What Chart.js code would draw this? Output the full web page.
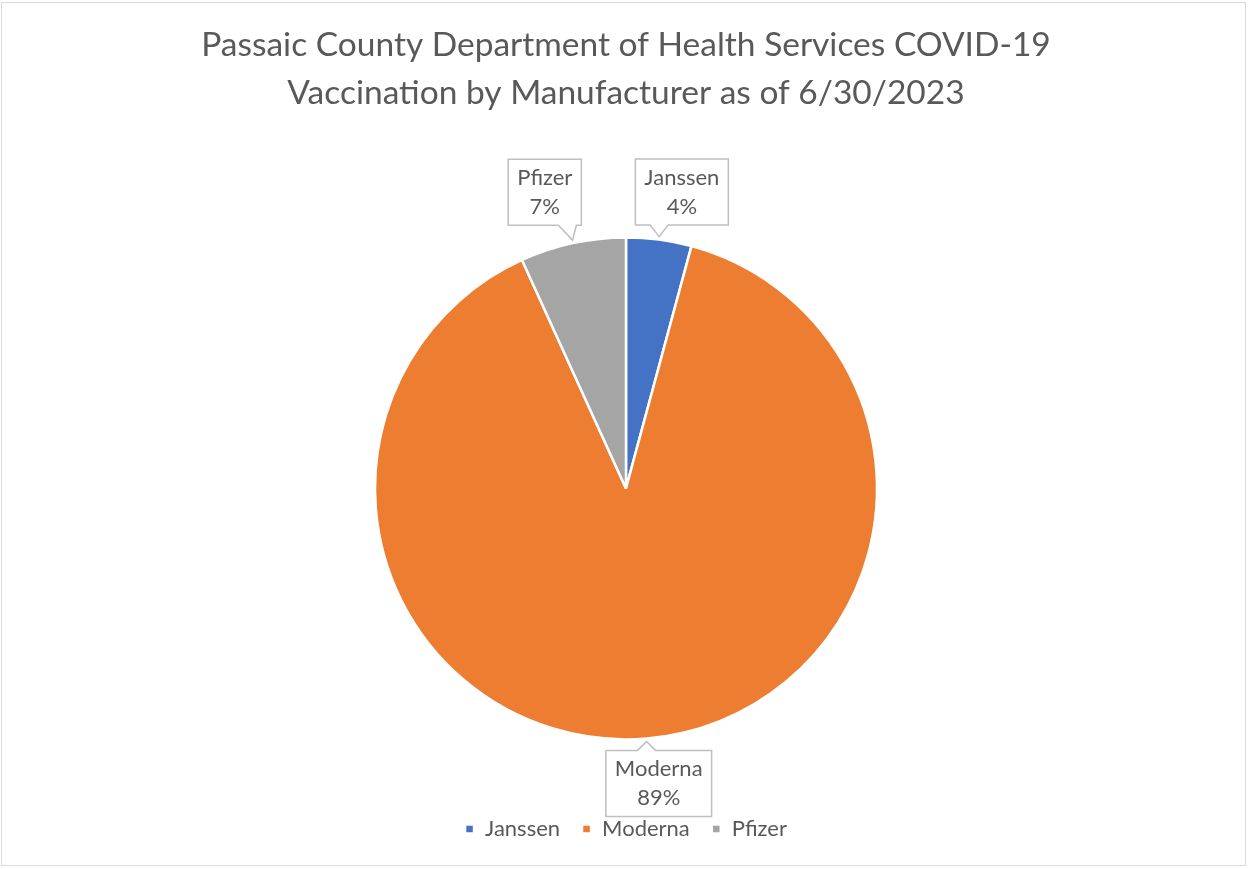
<!DOCTYPE html>
<html>
<head>
<meta charset="utf-8">
<script src="https://cdn.jsdelivr.net/npm/chart.js@4"></script>
<style>
  html, body { margin: 0; padding: 0; background: #fff; }
  #wrap {
    position: absolute; left: 1px; top: 2px; width: 1245px; height: 864px;
    border: 1px solid #d9d9d9; box-sizing: border-box;
  }
</style>
</head>
<body>
<div id="wrap"><canvas id="pieChart"></canvas></div>
<script>
// Данные диаграммы
const manufacturers = ['Janssen', 'Moderna', 'Pfizer'];
const shares = [4.2, 89.0, 6.8];
const pctLabels = ['4%', '89%', '7%'];
const sliceColors = ['#4472c4', '#ed7d31', '#a5a5a5'];

const textColor = '#595959';
const fontFamily = 'Lato, "Open Sans", sans-serif';

// Сдвиг выносок (стиль, не данные)
const calloutShift = [[16, 4], [8, -7], [-17, 0]];

// Плагин для выносок с рамкой и "хвостиком"
const calloutPlugin = {
    id: 'callouts',
    afterDatasetsDraw(chart) {
        const ctx = chart.ctx;
        const meta = chart.getDatasetMeta(0);
        ctx.save();
        ctx.font = '22px ' + fontFamily;
        meta.data.forEach((arc, i) => {
            const p = arc.getProps(['x', 'y', 'startAngle', 'endAngle', 'outerRadius'], true);
            const mid = (p.startAngle + p.endAngle) / 2;
            const dx = Math.cos(mid), dy = Math.sin(mid);
            const tipX = p.x + dx * (p.outerRadius + 1);
            const tipY = p.y + dy * (p.outerRadius + 1);

            const lines = [manufacturers[i], pctLabels[i]];
            const tw = Math.max(...lines.map(t => ctx.measureText(t).width));
            const w = tw + 18, h = 66;
            const cx = p.x + dx * (p.outerRadius + 52) + calloutShift[i][0];
            const cy = p.y + dy * (p.outerRadius + 52) + calloutShift[i][1];
            const left = cx - w / 2, right = cx + w / 2, top = cy - h / 2, bottom = cy + h / 2;

            const baseX = Math.min(Math.max(tipX, left + 14), right - 14);
            const half = 9;

            ctx.beginPath();
            if (tipY > bottom) {
                ctx.moveTo(left, top);
                ctx.lineTo(right, top);
                ctx.lineTo(right, bottom);
                ctx.lineTo(baseX + half, bottom);
                ctx.lineTo(tipX, tipY - 2);
                ctx.lineTo(baseX - half, bottom);
                ctx.lineTo(left, bottom);
            } else {
                ctx.moveTo(left, bottom);
                ctx.lineTo(left, top);
                ctx.lineTo(baseX - half, top);
                ctx.lineTo(tipX, tipY + 2);
                ctx.lineTo(baseX + half, top);
                ctx.lineTo(right, top);
                ctx.lineTo(right, bottom);
            }
            ctx.closePath();
            ctx.fillStyle = '#ffffff';
            ctx.fill();
            ctx.lineWidth = 1.5;
            ctx.strokeStyle = '#bfbfbf';
            ctx.stroke();

            ctx.fillStyle = textColor;
            ctx.textAlign = 'center';
            ctx.textBaseline = 'middle';
            ctx.fillText(lines[0], cx, cy - 14);
            ctx.fillText(lines[1], cx, cy + 15);
        });
        ctx.restore();
    }
};

const ctx = document.getElementById('pieChart').getContext('2d');
const pieChart = new Chart(ctx, {
    type: 'pie',
    data: {
        labels: manufacturers,
        datasets: [{
            data: shares,
            backgroundColor: sliceColors,
            borderColor: '#ffffff',
            borderWidth: 2.5
        }]
    },
    options: {
        responsive: true,
        maintainAspectRatio: false,
        animation: false,
        radius: 251,
        layout: {
            padding: { top: 0, bottom: 15, left: 5, right: 0 }
        },
        plugins: {
            title: {
                display: true,
                text: ['Passaic County Department of Health Services COVID-19',
                       'Vaccination by Manufacturer as of 6/30/2023'],
                color: textColor,
                font: { family: fontFamily, size: 33.5, weight: 'normal', lineHeight: 1.43 },
                padding: { top: 18, bottom: 64 }
            },
            legend: {
                position: 'bottom',
                labels: {
                    color: textColor,
                    font: { family: fontFamily, size: 22 },
                    boxWidth: 9,
                    boxHeight: 9,
                    padding: 22
                }
            },
            tooltip: { enabled: false }
        }
    },
    plugins: [calloutPlugin]
});
</script>
</body>
</html>
